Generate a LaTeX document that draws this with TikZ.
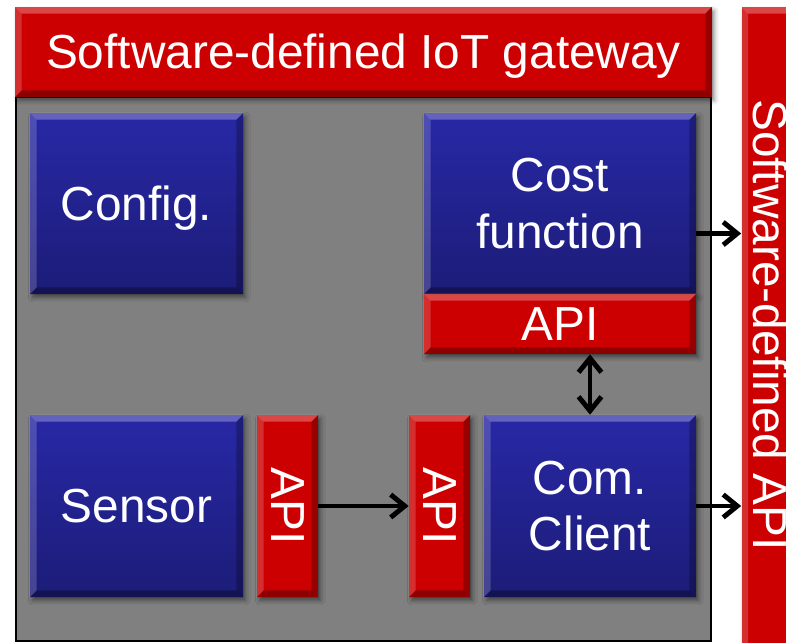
\documentclass[tikz,border=0pt]{standalone}
\usepackage{fontspec}
\setmainfont{Liberation Sans}
\usepackage{graphicx}
\usetikzlibrary{arrows.meta,calc,shadows.blur}

\definecolor{gwgray}{HTML}{808080}
\definecolor{blueTop}{HTML}{2828A6}
\definecolor{blueBot}{HTML}{1C1C78}
\definecolor{apired}{HTML}{CC0000}

% light edge top/left, dark edge bottom/right
\newcommand{\bevel}[1]{
  \fill[white, fill opacity=0.28] (#1.north west) -- (#1.north east) -- ([shift={(-7,7)}]#1.north east) -- ([shift={(7,7)}]#1.north west) -- cycle;
  \fill[white, fill opacity=0.18] (#1.north west) -- (#1.south west) -- ([shift={(7,-7)}]#1.south west) -- ([shift={(7,7)}]#1.north west) -- cycle;
  \fill[black, fill opacity=0.3] (#1.south west) -- (#1.south east) -- ([shift={(-7,-7)}]#1.south east) -- ([shift={(7,-7)}]#1.south west) -- cycle;
  \fill[black, fill opacity=0.25] (#1.north east) -- (#1.south east) -- ([shift={(-7,-7)}]#1.south east) -- ([shift={(-7,7)}]#1.north east) -- cycle;
}

\tikzset{
  boxshadow/.style={blur shadow={shadow xshift=1.5pt, shadow yshift=-2pt, shadow blur radius=2.5pt, shadow opacity=45}},
  oneline/.style={text height=24.6pt, text depth=5.8pt},
  bluebox/.style={top color=blueTop, bottom color=blueBot, boxshadow, align=center, inner sep=0pt},
  redbox/.style={fill=apired, boxshadow, inner sep=0pt},
  link/.style={line width=2.8pt, >={Straight Barb[length=8pt,width=13pt]}, ->},
}

\begin{document}
\begin{tikzpicture}[x=0.02cm, y=-0.02cm, every node/.style={font=\fontsize{27.2}{32}\selectfont, text=white}]
    \useasboundingbox (0,0) rectangle (786,642);

    % gateway
    \node[fill=gwgray, draw=black, line width=1pt, minimum width=13.9cm, minimum height=10.88cm] (gw) at (363.5,369) {};
    \node[redbox, oneline, minimum width=13.94cm, minimum height=1.8cm] (title) at (363.5,52) {Software-defined IoT gateway};
    \bevel{title}

    \node[redbox, minimum width=1.3cm, minimum height=13.2cm] (sdapi) at (774,337) {};
    \bevel{sdapi}
    \node[oneline, rotate=-90] (sdapitext) at (769.5,325) {Software-defined API};

    % blocks
    \node[bluebox, oneline, minimum width=4.26cm, minimum height=3.62cm] (config) at (136.5,203.5) {Config.};
    \node[bluebox, minimum width=5.44cm, minimum height=3.62cm] (cost) at (560,203.5) {Cost\\function};
    \node[redbox, oneline, minimum width=5.44cm, minimum height=1.2cm] (apitop) at (560,324) {API};
    \node[bluebox, oneline, minimum width=4.26cm, minimum height=3.64cm] (sensor) at (136.5,506) {Sensor};
    \node[redbox, minimum width=1.22cm, minimum height=3.64cm] (apisensor) at (287.5,506) {\rotatebox{-90}{API}};
    \node[redbox, minimum width=1.22cm, minimum height=3.64cm] (apiclient) at (439.5,506) {\rotatebox{-90}{API}};
    \node[bluebox, minimum width=4.24cm, minimum height=3.64cm] (client) at (590,506) {Com.\\Client};
    \foreach \b in {config,cost,apitop,sensor,apisensor,apiclient,client} {\bevel{\b}}

    % links
    \coordinate (costmid) at ($(cost.north east)!.5!(apitop.south east)$);
    \draw[link] (apisensor) -- (apiclient);
    \draw[link, <->] (client.north |- apitop.south) -- (client.north);
    \draw[link] (costmid) -- (costmid -| sdapi.west);
    \draw[link] (client.east) -- (client.east -| sdapi.west);
\end{tikzpicture}
\end{document}
